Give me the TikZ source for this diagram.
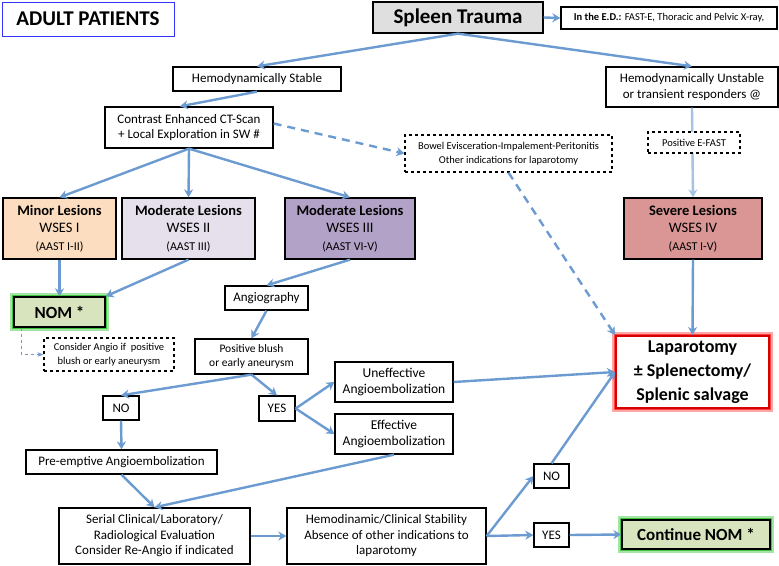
\documentclass[tikz,border=0pt]{standalone}
\usepackage{fontspec}
\setmainfont{Carlito}
\usetikzlibrary{arrows.meta}
\definecolor{arr}{HTML}{6C9BD2}
\definecolor{peach}{HTML}{FCDDBF}
\definecolor{lilac}{HTML}{E6E0EC}
\definecolor{purp}{HTML}{B3A2C7}
\definecolor{rose}{HTML}{D99694}
\definecolor{nomg}{HTML}{D7E4BD}
\tikzset{
 box/.style={draw,line width=1.3pt,align=center,inner sep=1pt,font=\fontsize{13}{15.5}\selectfont,fill=white},
 dbox/.style={box,dashed,line width=1.2pt,font=\fontsize{10.5}{14}\selectfont},
 les/.style={box,font=\fontsize{14.5}{17.5}\selectfont},
 ar/.style={draw=arr,line width=2.4pt,-{Stealth[length=8pt,width=9pt]}},
 dar/.style={ar,dashed,dash pattern=on 8pt off 6pt},
 glow/.style={preaction={draw=#1,draw opacity=0.35,line width=8pt},preaction={draw=#1,draw opacity=0.6,line width=4.5pt}},
 greenbox/.style={box,fill=nomg,glow=green!70!black,font=\bfseries\fontsize{17}{20}\selectfont},
}
\begin{document}
\begin{tikzpicture}[x=1pt,y=-1pt]
\useasboundingbox (0,0) rectangle (779,565);
\fill[white] (0,0) rectangle (779,565);
\node[box,draw=blue!80,line width=1pt,minimum width=172,minimum height=34,font=\bfseries\fontsize{21}{24}\selectfont] (adult) at (88,19) {ADULT PATIENTS};
\node[box,fill=gray!25,minimum width=170,minimum height=31,font=\bfseries\fontsize{21}{24}\selectfont] (spleen) at (458,17.5) {Spleen Trauma};
\node[box,minimum width=216,minimum height=22,font=\fontsize{10.5}{12}\selectfont] (ed) at (669,18) {\textbf{In the E.D.:} FAST-E, Thoracic and Pelvic X-ray,};
\node[box,minimum width=168,minimum height=24] (stable) at (257,79) {Hemodynamically Stable};
\node[box,minimum width=172,minimum height=40] (unstable) at (692,87) {Hemodynamically Unstable\\or transient responders @};
\node[box,minimum width=168,minimum height=41] (ct) at (189,127.5) {Contrast Enhanced CT-Scan\\+ Local Exploration in SW \#};
\node[dbox,minimum width=207,minimum height=37] (bowel) at (508.5,153.5) {Bowel Evisceration-Impalement-Peritonitis\\Other indications for laparotomy};
\node[les,fill=peach,minimum width=113,minimum height=61] (minor) at (59.5,228.5) {\textbf{Minor Lesions}\\WSES I\\{\fontsize{12}{15}\selectfont(AAST I-II)}};
\node[les,fill=lilac,minimum width=133,minimum height=61] (mod2) at (188.5,228.5) {\textbf{Moderate Lesions}\\WSES II\\{\fontsize{12}{15}\selectfont(AAST III)}};
\node[les,fill=purp,minimum width=130,minimum height=61] (mod3) at (350,228.5) {\textbf{Moderate Lesions}\\WSES III\\{\fontsize{12}{15}\selectfont(AAST VI-V)}};
\node[les,fill=rose,minimum width=138,minimum height=61] (severe) at (693,228.5) {\textbf{Severe Lesions}\\WSES IV\\{\fontsize{12}{15}\selectfont(AAST I-V)}};
\draw[ar,draw=arr!60] (unstable.south) -- (severe.north);
\node[dbox,minimum width=92,minimum height=21] (efast) at (694,142.5) {Positive E-FAST};
\node[greenbox,minimum width=91,minimum height=30] (nom) at (59.5,312) {NOM *};
\node[dbox,minimum width=130,minimum height=33] (consider) at (109,354.5) {Consider Angio if \ positive\\blush or early aneurysm};
\node[box,minimum width=83,minimum height=24] (angio) at (266.5,298) {Angiography};
\node[box,minimum width=113,minimum height=35,font=\fontsize{11.5}{14}\selectfont] (blush) at (251.5,356.5) {Positive blush\\or early aneurysm};
\node[box,minimum width=36,minimum height=24] (no1) at (121,408) {NO};
\node[box,minimum width=36,minimum height=25] (yes1) at (277,408.5) {YES};
\node[box,minimum width=118,minimum height=40,font=\fontsize{13.5}{16}\selectfont] (uneff) at (394,382) {Uneffective\\Angioembolization};
\node[box,minimum width=118,minimum height=40,font=\fontsize{13.5}{16}\selectfont] (eff) at (394,434) {Effective\\Angioembolization};
\node[box,minimum width=191,minimum height=24] (pre) at (121.5,462) {Pre-emptive Angioembolization};
\node[box,minimum width=191,minimum height=56] (serial) at (154.5,536) {Serial Clinical/Laboratory/\\Radiological Evaluation\\Consider Re-Angio if indicated};
\node[box,minimum width=199,minimum height=56] (hemo) at (386.5,536) {Hemodinamic/Clinical Stability\\Absence of other indications to\\laparotomy};
\node[box,minimum width=35,minimum height=24] (no2) at (551.5,476) {NO};
\node[box,minimum width=35,minimum height=24] (yes2) at (551.5,535) {YES};
\node[greenbox,minimum width=148,minimum height=29] (cont) at (696,534.5) {Continue NOM *};
\node[box,draw=red!85!black,line width=2pt,glow=red,minimum width=153,minimum height=72,font=\bfseries\fontsize{18}{24}\selectfont] (lap) at (692.5,372) {Laparotomy\\± Splenectomy/\\Splenic salvage};
% connectors
\draw[ar] (spleen.east) -- (ed.west);
\draw[ar] (spleen.south) -- (stable.north);
\draw[ar] (spleen.south) -- (unstable.north);
\draw[ar] (stable.south) -- (ct.north -| 180,0);
\draw[dar] (ct.east) ++(0,-4) -- (bowel.west);
\draw[ar] (ct.south) -- (minor.north);
\draw[ar] (ct.south) -- (mod2.north);
\draw[ar] (ct.south) -- (mod3.north);
\draw[ar] (severe.south) -- (lap.north);
\draw[dar] (bowel.south) -- (lap.north west);
\draw[ar] (minor.south) -- (nom.north);
\draw[ar] (mod2.south) -- (nom.north east);
\draw[ar] (mod3.south) -- (angio.north);
\draw[draw=arr,line width=1.6pt,dashed,-{Stealth[length=6pt]}] (nom.south west) ++(8,0) |- (consider.west);
\draw[ar] (angio.south) -- (blush.north);
\draw[ar] (blush.south) -- (no1.north);
\draw[ar] (blush.south) -- (yes1.north);
\draw[ar] (yes1.east) -- (uneff.west);
\draw[ar] (yes1.east) -- (eff.west);
\draw[ar] (uneff.east) -- (lap.west);
\draw[ar] (no1.south) -- (pre.north);
\draw[ar] (pre.south) -- (serial.north);
\draw[ar] (eff.south) -- (serial.north);
\draw[ar] (serial.east) -- (hemo.west);
\draw[ar] (hemo.east) -- (no2.west);
\draw[ar] (hemo.east) -- (yes2.west);
\draw[ar] (no2.north) -- (lap.west);
\draw[ar] (yes2.east) -- (cont.west);
\end{tikzpicture}
\end{document}
